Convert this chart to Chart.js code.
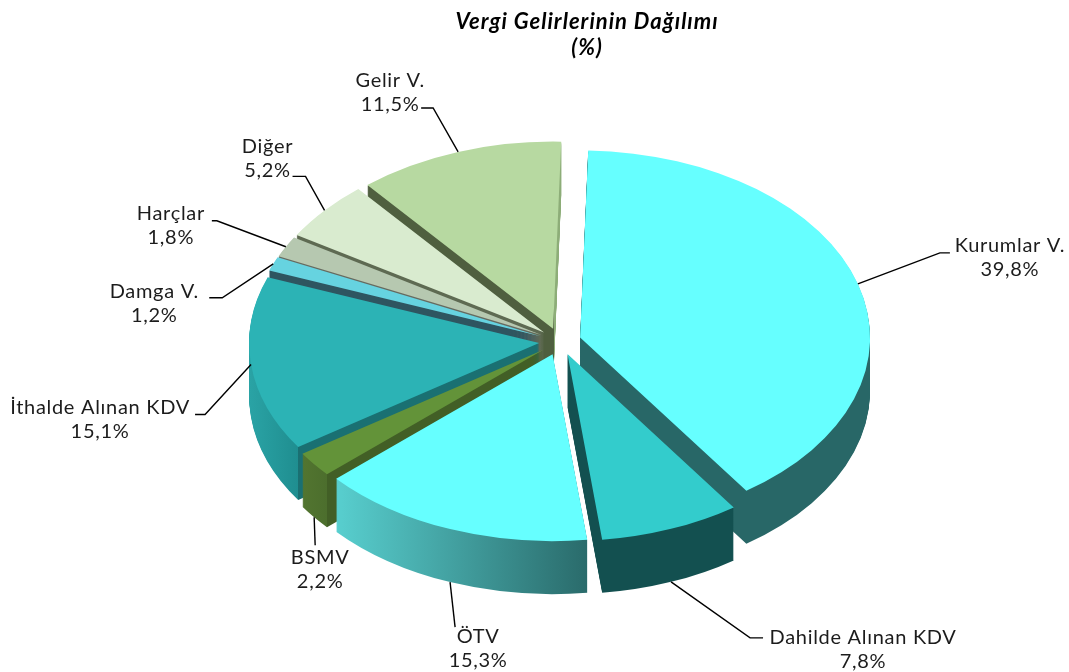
<!DOCTYPE html>
<html><head><meta charset="utf-8">
<style>html,body{margin:0;padding:0;background:#fff}canvas{display:block}</style>
<script src="https://cdn.jsdelivr.net/npm/chart.js@4/dist/chart.umd.min.js"></script>
</head><body><canvas id="c" width="1069" height="672"></canvas>
<script>
const categories=["Kurumlar V.","Dahilde Alınan KDV","ÖTV","BSMV","İthalde Alınan KDV","Damga V.","Harçlar","Diğer","Gelir V."];
const values=[39.8,7.8,15.3,2.2,15.1,1.2,1.8,5.2,11.5];
const topColors=["#66FFFF","#33CCCC","#66FFFF","#639339","#2CB3B5","#66D3E0","#B6C8B0","#D9EBCF","#B7D9A1"];
const wallLeft=["#286767","#135050","#58CFCF","#527530","#2AA3A5","#2E5560","#666B60","#5E6A52","#4F5F3F"];
const wallRight=["#286767","#135050","#2A6B6B","#4C6E2D","#1F8E90","#2E5560","#666B60","#5E6A52","#4F5F3F"];
const wallCut=["#286767","#135050","#2A6B6B","#425F26","#1A7072","#2E5560","#666B60","#5E6A52","#8DAD78"];
const paintOrder=[8,0,7,6,5,4,3,2,1];
// leader geometry relative to each slice's rim point: elbow, line end, text centre
const leaderElbow=[[82,-31],[79,56],[5,45],[1,28],[-46,50],[-51,34],[-69,-26],[-19,-34],[-25,-44]];
const leaderEnd=[[92,-31],[92,56],[5,45],[1,28],[-56,50],[-64,34],[-74,-26],[-32,-34],[-37,-44]];
const labelOffset=[[152,-38],[192,56],[28,54],[6,40],[-151,43],[-119,28],[-115,-33],[-57,-64],[-68,-71]];

const squash=0.645, depth=53, explode=21, shiftX=-27, rotationDeg=1.6, labelLine=24;
const labelFont='20px Lato', labelColor='#1c1c1c';

const pie3d={
 id:'pie3d',
 beforeDraw(chart){ chart.ctx.letterSpacing='1px'; },
 beforeDatasetsDraw(chart){
  const ctx=chart.ctx, arcs=chart.getDatasetMeta(0).data;
  ctx.letterSpacing='0px';
  const cy=arcs[0].y;
  const R=arcs[0].outerRadius;
  const project=()=>{ctx.translate(shiftX,cy);ctx.scale(1,squash);ctx.translate(0,-cy);};
  const opts=(fill)=>({backgroundColor:fill,borderColor:fill,borderWidth:0,offset:0,spacing:0,borderRadius:0,circular:true,borderAlign:'center',borderDash:[],borderDashOffset:0,borderJoinStyle:'round'});
  const dirOf=a=>{const m=(a.startAngle+a.endAngle)/2;return [Math.cos(m),Math.sin(m)];};
  for(const i of paintOrder){
   const a=arcs[i],[dx,dy]=dirOf(a);
   const saved=a.options;
   const xs=[a.startAngle,a.endAngle].map(t=>a.x+Math.cos(t)*R);
   [0,Math.PI,2*Math.PI].forEach(t=>{if(t>a.startAngle&&t<a.endAngle)xs.push(a.x+Math.cos(t)*R);});
   const x0=Math.min(...xs);
   // the last slice's thin lit edge starts just inside its rim range
   const x1=Math.max(...xs)-(i===8?7:0);
   const span=x1+300-x0,t=(x1-x0)/span;
   const g=ctx.createLinearGradient(x0,0,x1+300,0);
   g.addColorStop(0,wallLeft[i]);g.addColorStop(t,wallRight[i]);g.addColorStop(t,wallCut[i]);g.addColorStop(1,wallCut[i]);
   for(let d=depth;d>=1;d--){
    ctx.save();project();ctx.translate(dx*explode,dy*explode+d/squash);
    a.options=opts(g);a.draw(ctx);ctx.restore();
   }
   ctx.save();project();ctx.translate(dx*explode,dy*explode);
   a.options=opts(topColors[i]);a.draw(ctx);ctx.restore();
   a.options=saved;
  }
  // leaders and labels
  ctx.save();
  ctx.font=labelFont;ctx.textAlign='center';ctx.textBaseline='middle';ctx.letterSpacing='0.7px';
  arcs.forEach((a,i)=>{
   const [dx,dy]=dirOf(a);
   const rx=a.x+shiftX+dx*(explode+R);
   const ry=cy+dy*(explode+R)*squash+(dy>0.3?depth:0);
   ctx.strokeStyle='#000';ctx.lineWidth=1.4;
   ctx.beginPath();ctx.moveTo(rx,ry);
   ctx.lineTo(rx+leaderElbow[i][0],ry+leaderElbow[i][1]);
   ctx.lineTo(rx+leaderEnd[i][0],ry+leaderEnd[i][1]);ctx.stroke();
   ctx.fillStyle=labelColor;
   const tx=rx+labelOffset[i][0],ty=ry+labelOffset[i][1];
   ctx.fillText(categories[i],tx,ty);
   ctx.fillText(values[i].toFixed(1).replace('.',',')+'%',tx,ty+labelLine);
  });
  ctx.restore();
  return false;
 }
};

new Chart(document.getElementById('c'),{
 type:'pie',
 data:{labels:categories,datasets:[{data:values,backgroundColor:topColors,borderWidth:0}]},
 options:{
  responsive:false,animation:false,
  radius:290,rotation:rotationDeg,
  layout:{padding:{left:105,right:0,top:0,bottom:50}},
  plugins:{
   legend:{display:false},tooltip:{enabled:false},
   title:{display:true,text:["Vergi Gelirlerinin Dağılımı","(%)"],color:'#000',
    font:{family:'Lato',size:22,style:'italic',weight:'bold',lineHeight:1.18},padding:{top:9,bottom:0}}
  }
 },
 plugins:[pie3d]
});
</script></body></html>
